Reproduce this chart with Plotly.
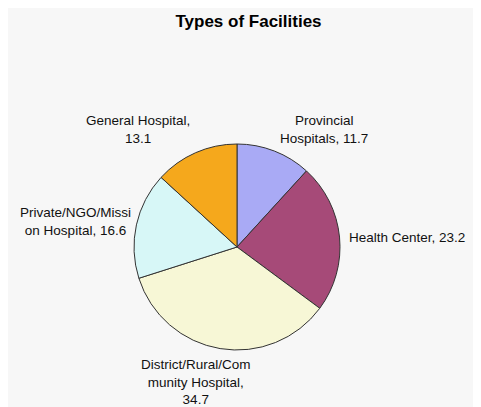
import plotly.graph_objects as go

labels = ["Provincial Hospitals", "Health Center", "District/Rural/Community Hospital",
          "Private/NGO/Mission Hospital", "General Hospital"]
values = [11.7, 23.2, 34.7, 16.6, 13.1]
text_lines = ["Provincial<br>Hospitals, 11.7", "Health Center, 23.2",
              "District/Rural/Com<br>munity Hospital,<br>34.7",
              "Private/NGO/Missi<br>on Hospital, 16.6", "General Hospital,<br>13.1"]
colors = ["#a9aaf5", "#a64a78", "#f7f7d6", "#d7f7f7", "#f5a81c"]

# label placement (figure pixels): x, y centre, x anchor
label_pos = [(316, 122, "center"), (339, 229, "left"), (187.5, 373.5, "center"),
             (67, 213.5, "center"), (130, 122, "center")]

W, H = 481, 407
FONT = "Liberation Sans, Arial"
fig = go.Figure(go.Pie(
    labels=labels, values=values,
    textinfo="none",
    sort=False, direction="clockwise", rotation=0,
    marker=dict(colors=colors, line=dict(color="#333333", width=1)),
    showlegend=False, automargin=False, hoverinfo="label+value",
    domain=dict(x=[126 / W, 332 / W], y=[(H - 342) / H, (H - 136) / H]),
))
for txt, (px, py, anc) in zip(text_lines, label_pos):
    fig.add_annotation(text=txt, xref="paper", yref="paper", x=px / W, y=1 - py / H,
                       xanchor=anc, yanchor="middle", align="center", showarrow=False,
                       font=dict(family=FONT, size=13.5, color="#111111"))
fig.update_layout(
    width=W, height=H, margin=dict(l=0, r=0, t=0, b=0),
    paper_bgcolor="#f7f7f7", plot_bgcolor="#f7f7f7",
    title=dict(text="<b>Types of Facilities</b>", x=0.5, xanchor="center", y=1 - 13 / H, yanchor="middle",
               font=dict(family=FONT, size=17, color="#000000")),
)
fig.write_html("out.html")
